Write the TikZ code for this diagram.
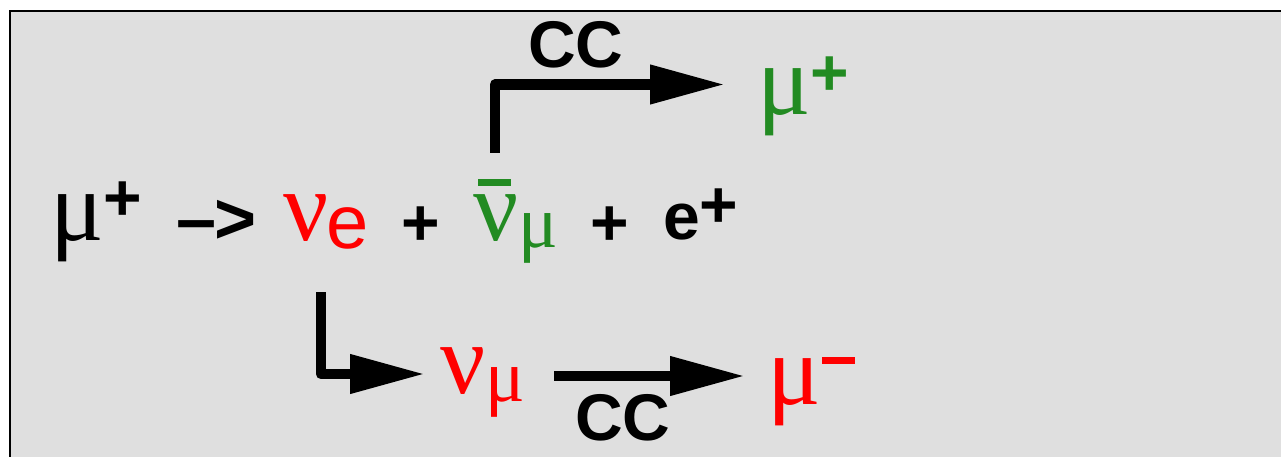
\documentclass[tikz,border=0pt]{standalone}
\usepackage{fontspec}
\setmainfont{Liberation Sans}
\newfontfamily\greekfont{Liberation Serif}
\usetikzlibrary{arrows.meta}
\definecolor{box_gray}{RGB}{223,223,223}
\definecolor{lepton_green}{RGB}{34,139,34}
\newcommand{\bigGreek}{\greekfont\fontsize{100}{100}\selectfont}
\newcommand{\subGreek}{\greekfont\fontsize{74}{74}\selectfont}
\newcommand{\boldSign}{\rmfamily\bfseries\fontsize{66}{66}\selectfont}
\tikzset{
  particle/.style = {inner sep=0pt, anchor=base west},% particule
  bold_text/.style = {particle, font=\boldSign},% signes et CC
  cc_arrow/.style = {line width=10.5pt, line join=round,
    -{Triangle[length=75pt,width=37pt]}}% fleche epaisse
}
\begin{document}
\begin{tikzpicture}[x=1pt, y=-1pt]
  \clip (0,0) rectangle (1281,457);
  \fill[white] (0,0) rectangle (1281,457);
  \draw[line width=2.5pt, fill=box_gray] (10,11) rectangle (1320,500);
  % desintegration du muon
  \node[particle] (mu_src) at (50,240)
    {{\bigGreek μ}\raisebox{19.4pt}{\boldSign +}};
  \node[bold_text, font=\rmfamily\bfseries\fontsize{72}{72}\selectfont]
    (decay_sign) at (176,243) {–\hspace{-2pt}>};
  \node[particle, text=red] (nu_e) at (283,240)
    {{\bigGreek ν}\hspace{-2pt}\raisebox{-8pt}{\rmfamily\fontsize{76}{76}\selectfont e}};
  \node[bold_text] (plus_one) at (401,245) {+};
  \node[particle, text=lepton_green] (nubar_mu) at (473,240)
    {{\bigGreek\rlap{\hspace{5pt}\rule[54pt]{33pt}{7pt}}ν}\raisebox{-7pt}{\subGreek μ}};
  \node[bold_text] (plus_two) at (590,245) {+};
  \node[bold_text] (e_plus) at (663,239) {e\raisebox{11.4pt}{+}};
  % branche du haut
  \node[bold_text] (cc_top) at (528,68) {CC};
  \node[particle, text=lepton_green] (mu_top) at (757,115)
    {{\bigGreek μ}\raisebox{19.4pt}{\boldSign +}};
  % branche du bas
  \node[particle, text=red] (nu_mu) at (440,393)
    {{\bigGreek ν}\raisebox{-8pt}{\subGreek μ}};
  \node[bold_text] (cc_bottom) at (575,440) {CC};
  \node[particle, text=red] (mu_minus) at (767,404)
    {{\bigGreek μ}\hspace{1pt}\rule[40pt]{33pt}{7pt}};
  % fleches
  \coordinate (top_start) at (495,153);
  \coordinate (top_end) at (725,84.5);
  \coordinate (low_start) at (321,292);
  \coordinate (low_end) at (425,374);
  \coordinate (cc_start) at (554,376);
  \coordinate (cc_end) at (745,376);
  \draw[cc_arrow] (top_start) |- (top_end);
  \draw[cc_arrow] (low_start) |- (low_end);
  \draw[cc_arrow] (cc_start) -- (cc_end);
\end{tikzpicture}
\end{document}
